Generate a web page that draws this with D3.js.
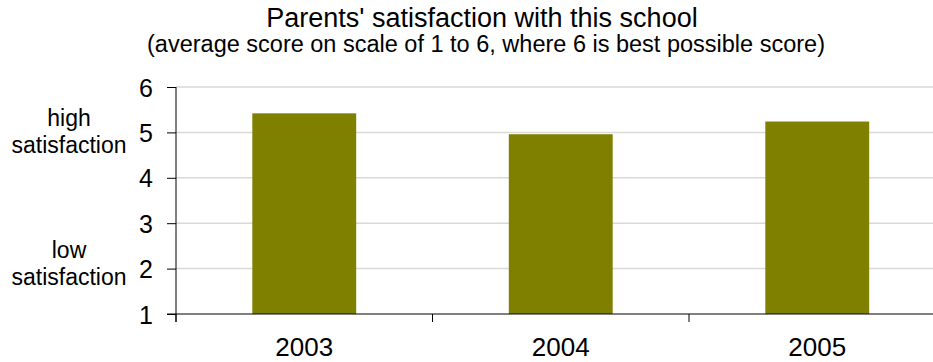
<!DOCTYPE html>
<html>
<head>
<meta charset="utf-8">
<script src="https://cdn.jsdelivr.net/npm/d3@7"></script>
<style>
  body { margin: 0; background: #fff; }
  svg { display: block; font-family: "Liberation Sans", Arial, sans-serif; }
</style>
</head>
<body>
<div id="chart"></div>
<script>
// chart data
var years = ["2003", "2004", "2005"];
var scores = [5.42, 4.96, 5.24];
var yTicks = [1, 2, 3, 4, 5, 6];
var sideLabels = [
    {value: 5.13, lines: ["high", "satisfaction"]},
    {value: 2.24, lines: ["low", "satisfaction"]}
];
var titleText = "Parents' satisfaction with this school";
var subtitleText = "(average score on scale of 1 to 6, where 6 is best possible score)";

var width = 933, height = 362;
var margin = {top: 87, left: 176, bottom: 48};
var plotRight = 945.5;

var svg = d3.select("#chart").append("svg")
    .attr("width", width)
    .attr("height", height);

var x = d3.scaleBand()
    .domain(years)
    .range([margin.left, plotRight])
    .paddingInner(0.595)
    .paddingOuter(0.2975);

var y = d3.scaleLinear()
    .domain([1, 6])
    .range([height - margin.bottom, margin.top]);

// titles
svg.append("text")
    .attr("x", 482).attr("y", 27)
    .attr("text-anchor", "middle")
    .style("font-size", "27px")
    .text(titleText);

svg.append("text")
    .attr("x", 486).attr("y", 52)
    .attr("text-anchor", "middle")
    .style("font-size", "23.5px")
    .text(subtitleText);

// gridlines
svg.append("g").selectAll("line")
    .data(yTicks.filter(function(d) { return d > 1; }))
    .join("line")
    .attr("x1", margin.left).attr("x2", width)
    .attr("y1", function(d) { return y(d); })
    .attr("y2", function(d) { return y(d); })
    .attr("stroke", "#d9d9d9")
    .attr("stroke-width", 1.5);

// bars
svg.append("g").selectAll("rect")
    .data(scores)
    .join("rect")
    .attr("x", function(d, i) { return x(years[i]); })
    .attr("width", x.bandwidth())
    .attr("y", function(d) { return y(d); })
    .attr("height", function(d) { return y(1) - y(d); })
    .attr("fill", "#808000");

// y axis
var yAxis = svg.append("g")
    .attr("transform", "translate(" + margin.left + ",0)")
    .call(d3.axisLeft(y).tickValues(yTicks).tickFormat(d3.format("d")).tickSize(9).tickPadding(14));
yAxis.select(".domain").attr("d", "M0," + y(6) + "V" + (y(1) + 8)).attr("stroke", "#000");
yAxis.selectAll(".tick line").attr("stroke", "#000");
yAxis.selectAll(".tick text")
    .style("font-size", "25px")
    .attr("dy", "0.36em")
    .attr("fill", "#000");

// x axis
var step = x.step();
var xEdges = years.map(function(d) { return x(d) - x.paddingOuter() * step; });
xEdges.push(plotRight);
var xAxis = svg.append("g");
xAxis.append("line")
    .attr("x1", margin.left - 9).attr("x2", width)
    .attr("y1", y(1)).attr("y2", y(1))
    .attr("stroke", "#000");
xAxis.selectAll(".xtick")
    .data(xEdges)
    .join("line")
    .attr("class", "xtick")
    .attr("x1", function(d) { return d; }).attr("x2", function(d) { return d; })
    .attr("y1", y(1)).attr("y2", y(1) + 8)
    .attr("stroke", "#000");
xAxis.selectAll("text")
    .data(years)
    .join("text")
    .attr("x", function(d) { return x(d) + x.bandwidth() / 2; })
    .attr("y", 356)
    .attr("text-anchor", "middle")
    .style("font-size", "26px")
    .text(function(d) { return d; });

// side labels
sideLabels.forEach(function(s) {
    var t = svg.append("text")
        .attr("x", 69)
        .attr("y", y(s.value))
        .attr("text-anchor", "middle")
        .style("font-size", "23px");
    s.lines.forEach(function(line, i) {
        t.append("tspan")
            .attr("x", 69)
            .attr("dy", i === 0 ? 0 : 27)
            .text(line);
    });
});
</script>
</body>
</html>
